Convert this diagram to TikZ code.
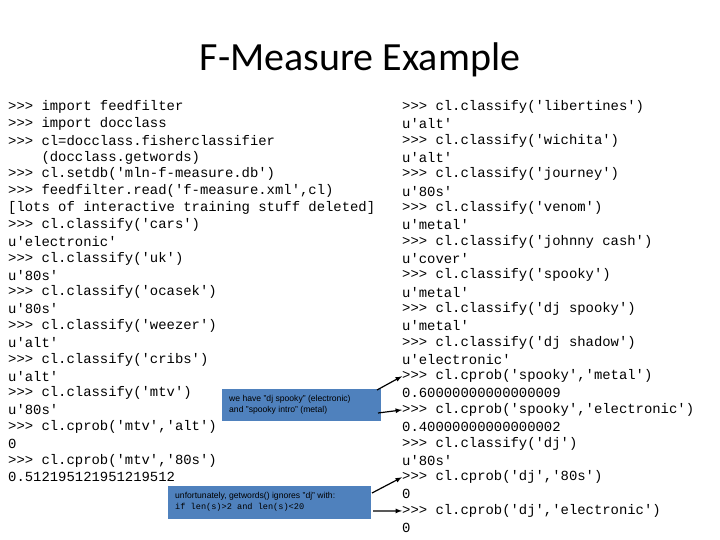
\documentclass[tikz,border=0pt]{standalone}
\usepackage{fontspec}
\setmainfont{Liberation Sans}
\newfontfamily\titlef{Carlito}
\newfontfamily\codef{Liberation Mono}
\begin{document}
\begin{tikzpicture}[x=1pt,y=-1pt,
  code/.style={anchor=west,inner sep=0pt,font=\codef\fontsize{13.9}{14}\selectfont},
  box/.style={fill=blueb,draw=none,align=left,anchor=north west,inner sep=0pt,text width=#1,font=\fontsize{8.6}{10.5}\selectfont},
  arr/.style={-latex,line width=1.2pt}]
\definecolor{blueb}{RGB}{79,129,189}
\useasboundingbox (0,0) rectangle (720,540);
\node[font=\titlef\fontsize{40}{44}\selectfont] (title) at (360,60) {F-Measure Example};
\foreach \t [count=\i from 0] in {
{>{}>{}> import feedfilter},
{>{}>{}> import docclass},
{>{}>{}> cl=docclass.fisherclassifier},
{\ \ \ \ (docclass.getwords)},
{>{}>{}> cl.setdb('mln-f-measure.db')},
{>{}>{}> feedfilter.read('f-measure.xml',cl)},
{[lots of interactive training stuff deleted]},
{>{}>{}> cl.classify('cars')},
{u'electronic'},
{>{}>{}> cl.classify('uk')},
{u'80s'},
{>{}>{}> cl.classify('ocasek')},
{u'80s'},
{>{}>{}> cl.classify('weezer')},
{u'alt'},
{>{}>{}> cl.classify('cribs')},
{u'alt'},
{>{}>{}> cl.classify('mtv')},
{u'80s'},
{>{}>{}> cl.cprob('mtv','alt')},
{0},
{>{}>{}> cl.cprob('mtv','80s')},
{0.512195121951219512}}
  \node[code] (l\i) at (8,107+16.83*\i) {\t};
\foreach \t [count=\i from 0] in {
{>{}>{}> cl.classify('libertines')},
{u'alt'},
{>{}>{}> cl.classify('wichita')},
{u'alt'},
{>{}>{}> cl.classify('journey')},
{u'80s'},
{>{}>{}> cl.classify('venom')},
{u'metal'},
{>{}>{}> cl.classify('johnny cash')},
{u'cover'},
{>{}>{}> cl.classify('spooky')},
{u'metal'},
{>{}>{}> cl.classify('dj spooky')},
{u'metal'},
{>{}>{}> cl.classify('dj shadow')},
{u'electronic'},
{>{}>{}> cl.cprob('spooky','metal')},
{0.60000000000000009},
{>{}>{}> cl.cprob('spooky','electronic')},
{0.40000000000000002},
{>{}>{}> cl.classify('dj')},
{u'80s'},
{>{}>{}> cl.cprob('dj','80s')},
{0},
{>{}>{}> cl.cprob('dj','electronic')},
{0}}
  \node[code] (r\i) at (402,107+16.83*\i) {\t};
\fill[blueb] (222,389) rectangle (381,421);
\node[anchor=west,inner sep=0pt,align=left,font=\fontsize{8.6}{10.5}\selectfont] (b1) at (229,405) {we have "dj spooky" (electronic)\\and "spooky intro" (metal)};
\fill[blueb] (168,486) rectangle (371,519);
\node[anchor=west,inner sep=0pt,align=left,font=\fontsize{8.6}{10.5}\selectfont] (b2) at (175,502) {unfortunately, getwords() ignores "dj" with:\\{\codef\fontsize{8.6}{10.5}\selectfont if len(s)>2 and len(s)<20}};
\coordinate (a1) at (377,390); \coordinate (a2) at (378,413);
\coordinate (a3) at (372,493); \coordinate (a4) at (373,511);
\draw[arr] (a1) -- (r16.west);
\draw[arr] (a2) -- (r18.west);
\draw[arr] (a3) -- (r22.west);
\draw[arr] (a4) -- (r24.west);
\end{tikzpicture}
\end{document}
